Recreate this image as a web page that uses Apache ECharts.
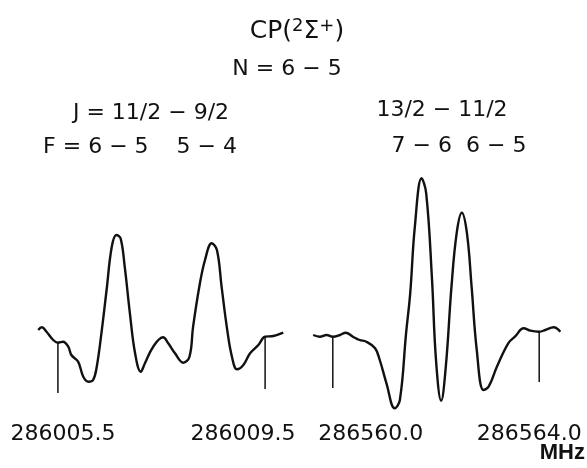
<!DOCTYPE html>
<html>
<head>
<meta charset="utf-8">
<script src="https://cdn.jsdelivr.net/npm/echarts@6/dist/echarts.min.js"></script>
<style>html,body{margin:0;padding:0;background:#fff}#c{width:587px;height:468px}</style>
</head>
<body>
<div id="c"></div>
<script>
// Left spectrum: J = 11/2 - 9/2 (frequency in MHz, intensity arbitrary units)
const leftFreq = [286005.12,286005.19,286005.28,286005.41,286005.50,286005.60,286005.70,286005.76,286005.89,286005.99,
  286006.09,286006.18,286006.25,286006.34,286006.44,286006.54,286006.63,286006.71,286006.79,286006.89,
  286006.99,286007.10,286007.18,286007.34,286007.53,286007.63,286007.76,286007.92,286008.04,286008.11,
  286008.23,286008.34,286008.47,286008.57,286008.66,286008.76,286008.86,286008.96,286009.08,286009.21,
  286009.37,286009.50,286009.66,286009.85];
const leftIntensity = [80,82.7,78.3,70,67.3,68.3,63.3,55,48.3,33.3,
  28.3,30,43.3,76.7,120,163.3,175,171.7,143.3,96.7,
  56.7,38.3,46.7,63.3,72.7,66.7,56.7,47.3,53.3,83.3,
  123.3,150,166.7,160,123.3,83.3,53.3,40.7,45,56.7,
  65,73.3,74,77.3];
// Right spectrum: J = 13/2 - 11/2
const rightFreq = [286559.62,286559.75,286559.88,286560.00,286560.14,286560.25,286560.39,286560.52,286560.65,286560.82,
  286560.91,286561.04,286561.20,286561.30,286561.42,286561.50,286561.59,286561.72,286561.81,286561.92,
  286562.00,286562.10,286562.19,286562.30,286562.40,286562.50,286562.60,286562.69,286562.79,286562.92,
  286563.02,286563.18,286563.40,286563.53,286563.70,286563.83,286564.00,286564.12,286564.28,286564.41];
const rightIntensity = [75,73.3,75,73.3,75,77.3,73.3,70,68.3,61.7,
  50,26.7,1.7,10,76.7,116.7,183.3,231.7,216.7,133.3,
  50,9.3,43.3,123.3,176.7,197.3,176.7,123.3,60,20,
  23.3,43.3,66.7,73.3,81.7,79.3,78.3,80,82.7,78.3];
// Reference frequency markers (vertical lines) and their labels
const leftTicks = [286005.5, 286009.5];
const leftTickLabels = ['286005.5', '286009.5'];
const leftMarkerTop = [67.3, 73.3];
const leftMarkerBottom = [17, 21];
const rightTicks = [286560.0, 286564.0];
const rightTickLabels = ['286560.0', '286564.0'];
const rightMarkerTop = [73.3, 78.3];
const rightMarkerBottom = [22, 28];

const zip = (a, b) => a.map((v, i) => [v, b[i]]);
const lineStyle = {color: '#111', width: 2.4};
const markerStyle = {color: '#111', width: 1.5};
function markerSeries(ticks, tops, bottoms, idx) {
  return ticks.map((t, i) => ({
    type: 'line', xAxisIndex: idx, yAxisIndex: idx, silent: true, symbol: 'none',
    data: [[t, tops[i]], [t, bottoms[i]]], lineStyle: markerStyle, animation: false
  }));
}
const chart = echarts.init(document.getElementById('c'));
const option = {
  backgroundColor: '#fff',
  animation: false,
  grid: [
    {left: 32, width: 259, top: 150, height: 260},
    {left: 307, width: 258, top: 150, height: 260}
  ],
  xAxis: [
    {type: 'value', gridIndex: 0, min: 286005.0, max: 286010.0, show: false},
    {type: 'value', gridIndex: 1, min: 286559.5, max: 286564.5, show: false}
  ],
  yAxis: [
    {type: 'value', gridIndex: 0, min: 0, max: 260, show: false},
    {type: 'value', gridIndex: 1, min: 0, max: 260, show: false}
  ],
  series: [
    {type: 'line', xAxisIndex: 0, yAxisIndex: 0, data: zip(leftFreq, leftIntensity), smooth: 0.4,
     symbol: 'none', lineStyle: lineStyle, clip: false},
    {type: 'line', xAxisIndex: 1, yAxisIndex: 1, data: zip(rightFreq, rightIntensity), smooth: 0.4,
     symbol: 'none', lineStyle: lineStyle, clip: false}
  ].concat(markerSeries(leftTicks, leftMarkerTop, leftMarkerBottom, 0))
   .concat(markerSeries(rightTicks, rightMarkerTop, rightMarkerBottom, 1))
};
chart.setOption(option);

const font = '"DejaVu Sans", sans-serif';
function txt(x, y, text, size) {
  return {type: 'text', x: x, y: y, style: {text: text, font: size + 'px ' + font, fill: '#111',
    align: 'center', verticalAlign: 'middle'}};
}
const labelOffsets = [[5, -22], [38, -10]];
const graphics = [];
leftTicks.forEach((t, i) => {
  const px = chart.convertToPixel({xAxisIndex: 0}, t);
  graphics.push(txt(px + labelOffsets[0][i], 434, leftTickLabels[i], 22));
});
rightTicks.forEach((t, i) => {
  const px = chart.convertToPixel({xAxisIndex: 1}, t);
  graphics.push(txt(px + labelOffsets[1][i], 434, rightTickLabels[i], 22));
});
graphics.push({type: 'text', x: 585, y: 453, style: {text: 'MHz', font: 'bold 22px "Liberation Sans", sans-serif',
  fill: '#111', align: 'right', verticalAlign: 'middle'}});
graphics.push({type: 'text', x: 297, y: 31, style: {
  text: 'CP({s|2}Σ{s|+})', font: '25px ' + font, fill: '#111', align: 'center', verticalAlign: 'middle',
  rich: {s: {fontSize: 18, fontFamily: 'DejaVu Sans', verticalAlign: 'top', padding: [0, 0, 10, 0], fill: '#111'}}}});
graphics.push(txt(287, 69, 'N = 6 − 5', 22));
graphics.push(txt(151, 113, 'J = 11/2 − 9/2', 22));
graphics.push(txt(140, 147, 'F = 6 − 5    5 − 4', 22));
graphics.push(txt(442, 110, '13/2 − 11/2', 22));
graphics.push(txt(459, 146, '7 − 6  6 − 5', 22));
chart.setOption({graphic: graphics});
</script>
</body>
</html>
